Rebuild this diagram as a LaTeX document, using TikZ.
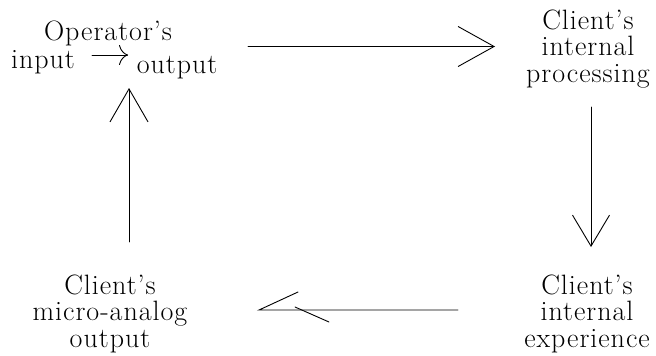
\documentclass[tikz,border=0pt]{standalone}
\usepackage{fontspec}
\setmainfont{lmroman17-regular.otf}[LetterSpace=3.5]
\usetikzlibrary{arrows.meta,calc}
\begin{document}
\begin{tikzpicture}[x=1pt,y=-1pt,
  lbl/.style={font=\fontsize{28}{26.5}\selectfont, inner sep=0pt, align=center},
  conn/.style={line width=0.9pt, line cap=round, line join=miter}]
\useasboundingbox (0,0) rectangle (656,356);

% texts (base anchor = baseline of the last line)
\node[lbl, anchor=base] (op) at (108,40) {Operator's};
\node[lbl, anchor=base] (inp) at (43,68) {input};
\node[lbl, anchor=base] (outp) at (177,73) {output};
\node[lbl, anchor=base] (cip) at (588,82) {Client's\\internal\\processing};
\node[lbl, anchor=base] (cie) at (587,347) {Client's\\internal\\experience};
\node[lbl, anchor=base] (cmo) at (110,347) {Client's\\micro-analog\\output};

% connector end points
\coordinate (ia) at (92,55);   \coordinate (ib) at (128,55);
\coordinate (ta) at (248,46.5); \coordinate (tb) at (495,46.5);
\coordinate (ra) at (591,107); \coordinate (rb) at (591,247);
\coordinate (ba) at (458,310); \coordinate (bb) at (259,310);
\coordinate (la) at (129,242); \coordinate (lb) at (129,88);

% inline arrow
\draw[conn, -{Computer Modern Rightarrow[length=9pt,width=20pt]}] (ia) -- (ib);
% main arrows
\draw[conn, -{Straight Barb[length=36pt,width=40pt]}] (ta) -- (tb);
\draw[conn, -{Straight Barb[length=31pt,width=37pt]}] (ra) -- (rb);
\draw[conn, -{Straight Barb[length=33pt,width=38pt]}] (la) -- (lb);
\draw[conn] (ba) -- (bb) -- ++(39,-18);
\draw[conn] ($(bb)+(36,-3)$) -- ++(34,15);
\end{tikzpicture}
\end{document}
